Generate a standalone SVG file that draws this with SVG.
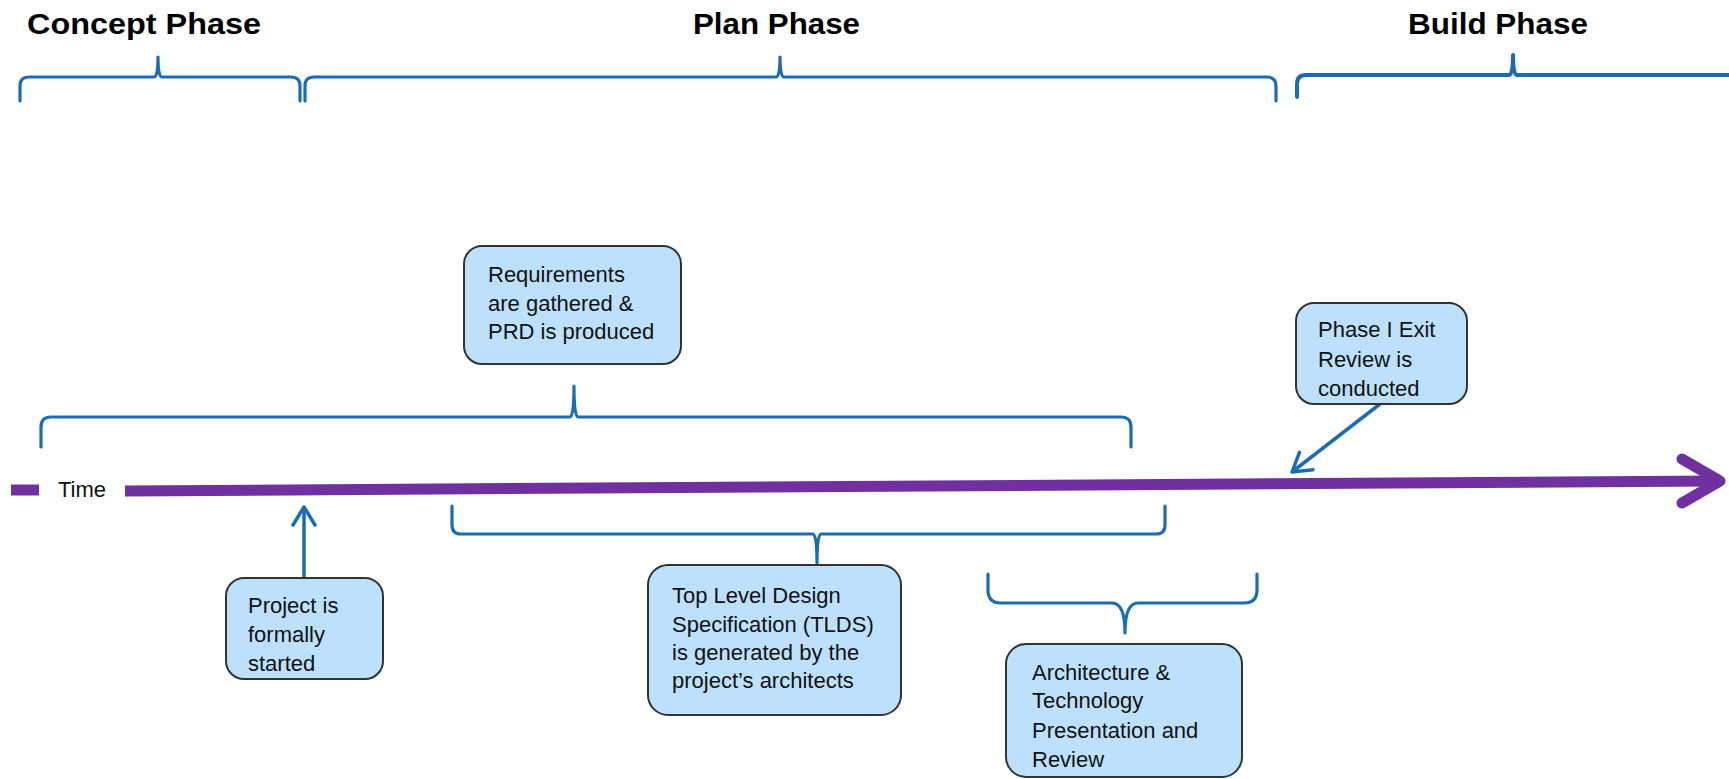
<svg xmlns="http://www.w3.org/2000/svg" width="1729" height="779" viewBox="0 0 1729 779">
<defs>
<style>
.head{font-family:"Liberation Sans",Arial,sans-serif;font-weight:bold;font-size:29px;fill:#000}
.txt{font-family:"Liberation Sans",Arial,sans-serif;font-size:22px;fill:#111}
.box{fill:#BDE1FC;stroke:#333;stroke-width:2}
.brace{fill:none;stroke:#1C6CB4;stroke-width:3.2;stroke-linecap:round;stroke-linejoin:round}
.conn{fill:none;stroke:#1C6CB4;stroke-width:3.5}
.time{fill:none;stroke:#7030A0;stroke-width:11;stroke-linecap:butt}
</style>
<marker id="head" markerUnits="userSpaceOnUse" markerWidth="22" markerHeight="26" viewBox="0 0 22 26" refX="20" refY="13" orient="auto" overflow="visible">
<path d="M2,2 L20,13 L2,24" fill="none" stroke="#1C6CB4" stroke-width="3.5" stroke-linecap="round" stroke-linejoin="round"/>
</marker>
</defs>
<rect width="1729" height="779" fill="#fff"/>

<g id="phase-headings">
<text class="head" x="27" y="34" textLength="234" lengthAdjust="spacingAndGlyphs">Concept Phase</text>
<text class="head" x="693" y="34" textLength="167" lengthAdjust="spacingAndGlyphs">Plan Phase</text>
<text class="head" x="1408" y="34" textLength="180" lengthAdjust="spacingAndGlyphs">Build Phase</text>
</g>

<g id="braces">
<path class="brace" d="M20,101 L20,86 Q20,77 29,77 L154,77 Q158,77 158,57 Q158,77 162,77 L291,77 Q300,77 300,86 L300,101"/>
<path class="brace" d="M305,101 L305,86 Q305,77 314,77 L776,77 Q780,77 780,57 Q780,77 784,77 L1267,77 Q1276,77 1276,86 L1276,101"/>
<path class="brace" style="stroke-width:4" d="M1297,97 L1297,84 Q1297,75 1306,75 L1509,75 Q1513,75 1513,55 Q1513,75 1517,75 L1740,75"/>
<path class="brace" d="M41,447 L41,427 Q41,417 51,417 L570,417 Q574,417 574,386 Q574,417 578,417 L1121,417 Q1131,417 1131,427 L1131,447"/>
<path class="brace" d="M452,506 L452,525 Q452,534 461,534 L813,534 Q817,534 817,563 Q817,534 821,534 L1156,534 Q1165,534 1165,525 L1165,506"/>
<path class="brace" d="M988,574 L988,590 Q988,603 1001,603 L1112,603 Q1125,603 1125,633 Q1125,603 1138,603 L1244,603 Q1257,603 1257,590 L1257,574"/>
</g>

<g id="timeline">
<line class="time" x1="11" y1="490" x2="39" y2="490"/>
<text class="txt" x="58" y="497">Time</text>
<line class="time" x1="125" y1="491" x2="1716" y2="481"/>
<polyline class="time" points="1682,459 1720,481 1682,503" style="stroke-linecap:round;stroke-linejoin:round"/>
</g>

<g id="connectors">
<line class="conn" x1="304" y1="578" x2="304" y2="507" marker-end="url(#head)"/>
<line class="conn" x1="1380" y1="404" x2="1292" y2="472" marker-end="url(#head)"/>
</g>

<g id="node-requirements">
<rect class="box" x="464" y="246" width="217" height="118" rx="18"/>
<text class="txt" x="488" y="282">Requirements</text>
<text class="txt" x="488" y="311">are gathered &amp;</text>
<text class="txt" x="488" y="339">PRD is produced</text>
</g>

<g id="node-exit-review">
<rect class="box" x="1296" y="303" width="171" height="101" rx="18"/>
<text class="txt" x="1318" y="337">Phase I Exit</text>
<text class="txt" x="1318" y="367">Review is</text>
<text class="txt" x="1318" y="396">conducted</text>
</g>

<g id="node-project-start">
<rect class="box" x="226" y="578" width="157" height="101" rx="18"/>
<text class="txt" x="248" y="613">Project is</text>
<text class="txt" x="248" y="642">formally</text>
<text class="txt" x="248" y="671">started</text>
</g>

<g id="node-tlds">
<rect class="box" x="648" y="565" width="253" height="150" rx="20"/>
<text class="txt" x="672" y="603">Top Level Design</text>
<text class="txt" x="672" y="632">Specification (TLDS)</text>
<text class="txt" x="672" y="660">is generated by the</text>
<text class="txt" x="672" y="688">project’s architects</text>
</g>

<g id="node-arch-review">
<rect class="box" x="1006" y="644" width="236" height="133" rx="20"/>
<text class="txt" x="1032" y="680">Architecture &amp;</text>
<text class="txt" x="1032" y="708">Technology</text>
<text class="txt" x="1032" y="738">Presentation and</text>
<text class="txt" x="1032" y="767">Review</text>
</g>
</svg>
